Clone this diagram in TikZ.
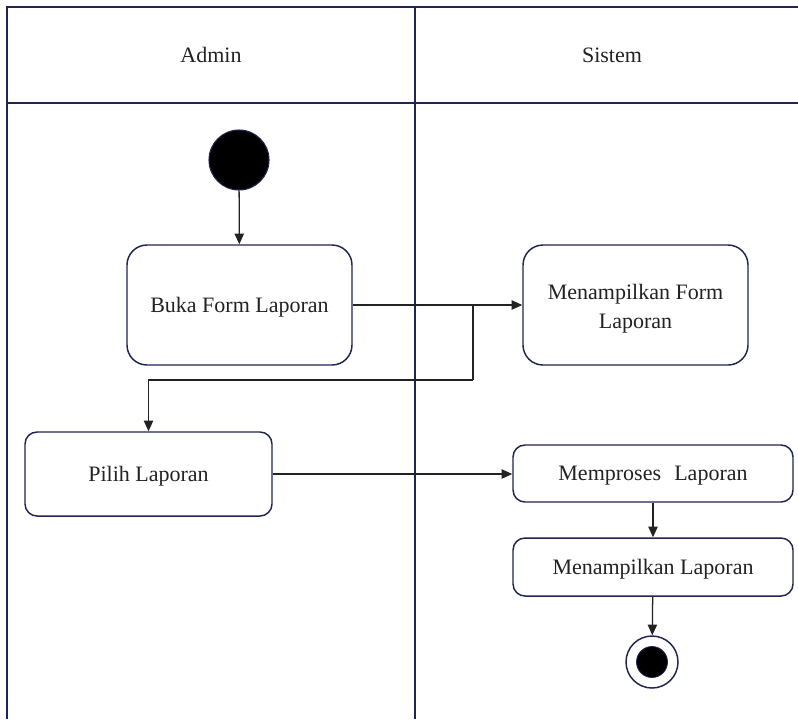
\documentclass[tikz,border=0pt]{standalone}
\usepackage{fontspec}
\setmainfont{Liberation Serif}
\usetikzlibrary{arrows.meta}
\definecolor{navy}{HTML}{1F2550}
\definecolor{ink}{HTML}{222222}
\tikzset{
  lane/.style={draw=navy, line width=1.3pt},
  act/.style={draw=navy, line width=1.1pt, fill=white, text=ink,
    font=\fontsize{16.5}{21.5}\selectfont, align=center, inner sep=0pt,
    text depth=0pt},
  flow/.style={draw=ink, line width=0.95pt, -{Triangle[length=8pt,width=7pt]}},
  link/.style={draw=ink, line width=0.95pt},
  lanetitle/.style={text=ink, font=\fontsize{16.5}{20}\selectfont}
}
\begin{document}
\begin{tikzpicture}[x=0.75pt,y=-0.75pt]
\useasboundingbox (0,0) rectangle (798,719);
% swimlane frame
\draw[lane] (7,719) -- (7,7) -- (798,7);
\draw[lane] (7,103) -- (798,103);
\draw[lane] (415,7) -- (415,719);
\node[lanetitle] (admin) at (211,55) {Admin};
\node[lanetitle] (sistem) at (612,55) {Sistem};
% activities
\node[act, minimum width=225*0.75pt, minimum height=120*0.75pt, rounded corners=15pt] (buka) at (239.5,305) {Buka Form Laporan};
\node[act, minimum width=225*0.75pt, minimum height=120*0.75pt, rounded corners=15pt, text height=35pt] (formsys) at (635.5,305) {Menampilkan Form\\Laporan};
\node[act, minimum width=247*0.75pt, minimum height=84*0.75pt, rounded corners=9pt] (pilih) at (148.5,474) {Pilih Laporan};
\node[act, minimum width=280*0.75pt, minimum height=57*0.75pt, rounded corners=9pt] (proses) at (653,473.5) {Memproses\hspace{0.6em}Laporan};
\node[act, minimum width=280*0.75pt, minimum height=58*0.75pt, rounded corners=9pt] (tampil) at (653,567) {Menampilkan Laporan};
% start and end
\node[circle, fill=black, draw=navy, line width=0.8pt, minimum size=60*0.75pt, inner sep=0pt] (start) at (239,160) {};
\node[circle, draw=navy, line width=1.1pt, fill=white, minimum size=52*0.75pt, inner sep=0pt] (end) at (652,662) {};
\node[circle, fill=black, draw=navy, line width=0.6pt, minimum size=31*0.75pt, inner sep=0pt] (endcore) at (652,662) {};
% flows
\draw[flow] (start) -- (buka);
\draw[flow] (buka) -- (formsys);
\coordinate (split) at (473,305);
\coordinate (bend) at (473,380);
\draw[link] (split) -- (bend);
\draw[flow] (bend) -| (pilih.north);
\draw[flow] (pilih.east) -- (proses.west |- pilih.east);
\draw[flow] (proses) -- (tampil);
\draw[flow] (tampil) -- (end);
\end{tikzpicture}
\end{document}
